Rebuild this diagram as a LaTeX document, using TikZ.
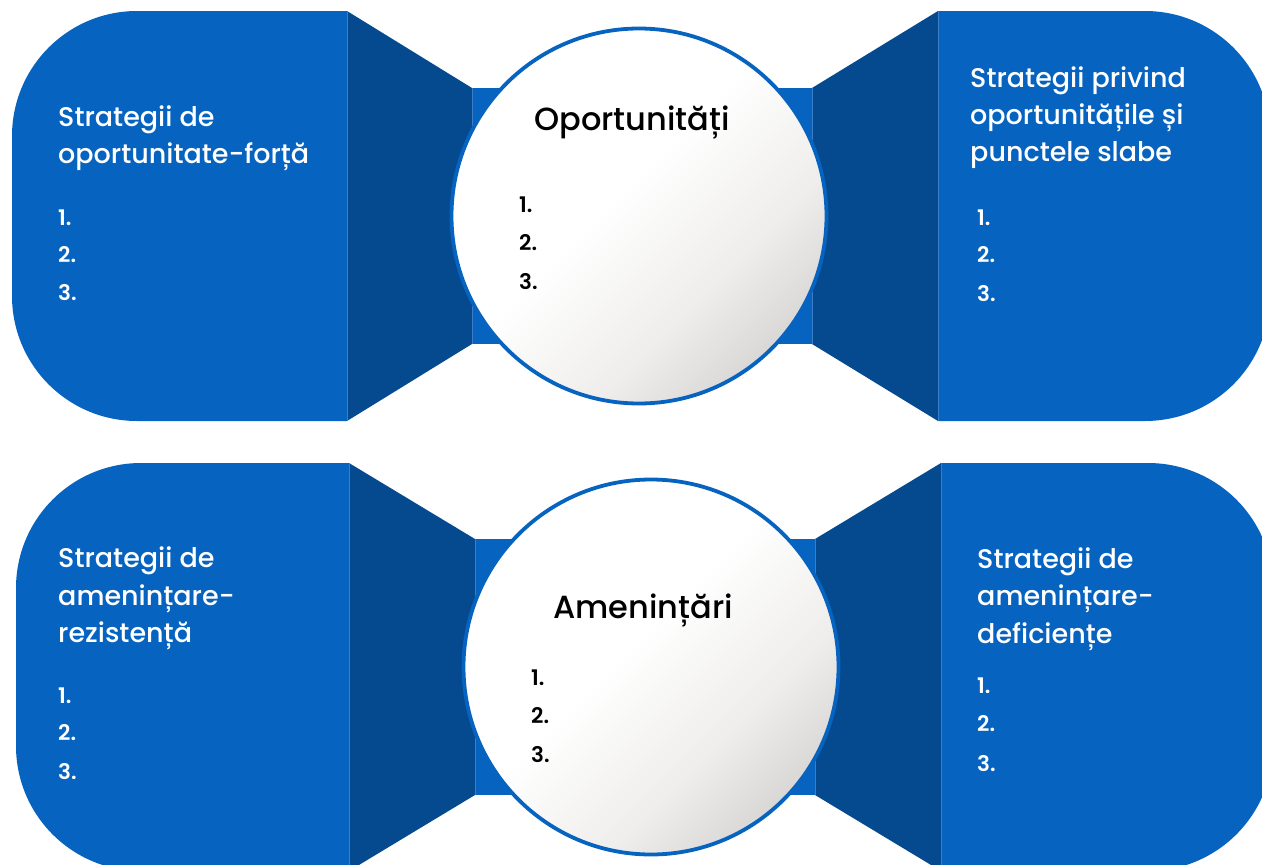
\documentclass[tikz,border=0pt]{standalone}
\usepackage{fontspec}
\setmainfont{Poppins}[UprightFont={* Medium},BoldFont={* SemiBold}]
\definecolor{mblue}{RGB}{6,99,192}
\definecolor{dblue}{RGB}{5,74,143}
\definecolor{edgeblue}{RGB}{60,125,200}
\definecolor{gA}{RGB}{238,237,235}
\definecolor{gB}{RGB}{196,194,192}
\pgfdeclarehorizontalshading{circgrad}{100bp}{color(0bp)=(white);color(46bp)=(white);color(64bp)=(gA);color(86bp)=(gB);color(100bp)=(gB)}
\begin{document}
\begin{tikzpicture}[x=1pt,y=-1pt,
  hd/.style={anchor=base west,inner sep=0pt,text=white,font=\fontsize{27}{33}\selectfont},
  num/.style={anchor=base west,inner sep=0pt,text=white,font=\bfseries\fontsize{21.5}{26}\selectfont},
  ctitle/.style={anchor=base,inner sep=0pt,text=black,font=\fontsize{32}{38}\selectfont},
  cnum/.style={anchor=base west,inner sep=0pt,text=black,font=\bfseries\fontsize{21.5}{26}\selectfont},
  circ/.style={circle,minimum size=375pt,inner sep=0pt,draw=mblue,line width=3.8pt,shading=circgrad,shading angle=-45},
  seam/.style={edgeblue,line width=0.8pt}]
\useasboundingbox (0,0) rectangle (1262,865);
\clip (0,0) rectangle (1262,865);
% ---------- top row ----------
\fill[mblue] (472,88) rectangle (812,344);
\fill[dblue] (347,11) -- (472,88) -- (472,344) -- (347,421) -- cycle;
\fill[dblue] (938,11) -- (812,88) -- (812,344) -- (938,421) -- cycle;
\fill[mblue] (347,11) -- (137,11) arc[start angle=270,end angle=180,radius=125] -- (12,296) arc[start angle=180,end angle=90,radius=125] -- (347,421) -- cycle;
\fill[mblue] (938,11) -- (1145,11) arc[start angle=270,end angle=360,radius=125] -- (1270,296) arc[start angle=0,end angle=90,radius=125] -- (938,421) -- cycle;
\draw[seam] (347,11) -- (347,421);
\draw[seam] (938,11) -- (938,421);
\draw[seam] (472,88) -- (472,344);
\draw[seam] (812,88) -- (812,344);
\node[circ] (c1) at (639,216) {};
% ---------- bottom row ----------
\fill[mblue] (475,539) rectangle (815,795);
\fill[dblue] (349,463) -- (475,539) -- (475,795) -- (349,871) -- cycle;
\fill[dblue] (941,463) -- (815,539) -- (815,795) -- (941,871) -- cycle;
\fill[mblue] (349,463) -- (141,463) arc[start angle=270,end angle=180,radius=125] -- (16,746) arc[start angle=180,end angle=90,radius=125] -- (349,871) -- cycle;
\fill[mblue] (941,463) -- (1148,463) arc[start angle=270,end angle=360,radius=125] -- (1273,746) arc[start angle=0,end angle=90,radius=125] -- (941,871) -- cycle;
\draw[seam] (349,463) -- (349,871);
\draw[seam] (941,463) -- (941,871);
\draw[seam] (475,539) -- (475,795);
\draw[seam] (815,539) -- (815,795);
\node[circ] (c2) at (651,667) {};
% ---------- texts top-left ----------
\node[hd] (tl1) at (58,126) {Strategii de};
\node[hd] (tl2) at (58,163) {oportunitate-forță};
\node[num] (tln1) at (58,225) {1.};
\node[num] (tln2) at (58,262) {2.};
\node[num] (tln3) at (58,300) {3.};
% ---------- texts top-center ----------
\node[ctitle] (tc1) at (632,130) {Oportunități};
\node[cnum] (tcn1) at (519,212) {1.};
\node[cnum] (tcn2) at (519,250) {2.};
\node[cnum] (tcn3) at (519,289) {3.};
% ---------- texts top-right ----------
\node[hd] (tr1) at (970,87) {Strategii privind};
\node[hd] (tr2) at (970,124) {oportunitățile și};
\node[hd] (tr3) at (970,161) {punctele slabe};
\node[num] (trn1) at (977,225) {1.};
\node[num] (trn2) at (977,262) {2.};
\node[num] (trn3) at (977,301) {3.};
% ---------- texts bottom-left ----------
\node[hd] (bl1) at (58,567) {Strategii de};
\node[hd] (bl2) at (58,605) {amenințare-};
\node[hd] (bl3) at (58,642) {rezistență};
\node[num] (bln1) at (58,703) {1.};
\node[num] (bln2) at (58,740) {2.};
\node[num] (bln3) at (58,779) {3.};
% ---------- texts bottom-center ----------
\node[ctitle] (bc1) at (643,618) {Amenințări};
\node[cnum] (bcn1) at (531,685) {1.};
\node[cnum] (bcn2) at (531,723) {2.};
\node[cnum] (bcn3) at (531,762) {3.};
% ---------- texts bottom-right ----------
\node[hd] (br1) at (977,568) {Strategii de};
\node[hd] (br2) at (977,605) {amenințare-};
\node[hd] (br3) at (977,643) {deficiențe};
\node[num] (brn1) at (977,693) {1.};
\node[num] (brn2) at (977,731) {2.};
\node[num] (brn3) at (977,771) {3.};
\end{tikzpicture}
\end{document}
